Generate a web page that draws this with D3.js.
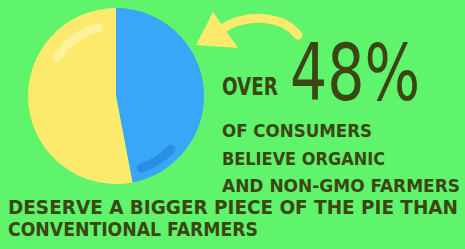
<!doctype html>
<html>
  <head>
    <script src="https://cdnjs.cloudflare.com/ajax/libs/d3/7.8.5/d3.min.js"></script>
    <style>
      body { margin: 0; background: #60f36c; }
      svg { display: block; }
      text { font-family: "DejaVu Sans Condensed", "DejaVu Sans", sans-serif; font-weight: bold; fill: #3a4712; }
    </style>
  </head>
  <body>
    <svg width="465" height="249"></svg>

    <script>
        var categories = ["Organic / non-GMO", "Conventional"];
        var shares = [47, 53];
        var sliceColors = ["#3aa6f8", "#fde96b"];

        var headline = ["OVER", "48%"];
        var bodyLines = ["OF CONSUMERS", "BELIEVE ORGANIC", "AND NON-GMO FARMERS"];
        var footLines = ["DESERVE A BIGGER PIECE OF THE PIE THAN", "CONVENTIONAL FARMERS"];

        var svg = d3.select("svg");
        var cx = 116, cy = 96, r = 88;

        var pie = d3.pie().sort(null).value(d => d)(shares);
        var arc = d3.arc().innerRadius(0).outerRadius(r);

        var g = svg.append("g").attr("transform", `translate(${cx},${cy})`);
        g.selectAll("path.slice")
          .data(pie)
          .enter()
          .append("path")
          .attr("class", "slice")
          .attr("d", arc)
          .attr("fill", (d, i) => sliceColors[i]);

        // shine marks on each slice
        var deg = Math.PI / 180;
        var shine = d3.arc().cornerRadius(4);
        g.append("path")
          .attr("d", shine({innerRadius: 66, outerRadius: 75, startAngle: -60 * deg, endAngle: -11 * deg}))
          .attr("fill", "#fdf29c");
        g.append("path")
          .attr("d", shine({innerRadius: 72, outerRadius: 81, startAngle: 131 * deg, endAngle: 164 * deg}))
          .attr("fill", "#2a8fe2");

        // arrow
        var p = d3.path();
        p.moveTo(298, 35);
        p.bezierCurveTo(285, 18, 250, 10, 220, 30);
        svg.append("path")
          .attr("d", p.toString())
          .attr("fill", "none")
          .attr("stroke", "#fde96b")
          .attr("stroke-width", 9)
          .attr("stroke-linecap", "round");
        svg.append("path")
          .attr("d", "M196,45 L213,12 L238,48 Z")
          .attr("fill", "#fde96b");

        svg.append("text").attr("x", 222).attr("y", 95)
          .attr("font-size", 24).attr("textLength", 56).attr("lengthAdjust", "spacingAndGlyphs")
          .text(headline[0]);
        svg.append("text").attr("x", 290).attr("y", 100)
          .attr("font-size", 78).attr("textLength", 130).attr("lengthAdjust", "spacingAndGlyphs")
          .style("font-weight", "normal")
          .text(headline[1]);

        var bodyWidths = [150, 163, 238];
        svg.selectAll("text.body")
          .data(bodyLines)
          .enter()
          .append("text")
          .attr("class", "body")
          .attr("x", 222)
          .attr("y", (d, i) => 137 + i * 27.5)
          .attr("font-size", 18.5)
          .attr("textLength", (d, i) => bodyWidths[i])
          .attr("lengthAdjust", "spacingAndGlyphs")
          .text(d => d);

        var footWidths = [450, 250];
        svg.selectAll("text.foot")
          .data(footLines)
          .enter()
          .append("text")
          .attr("class", "foot")
          .attr("x", 8)
          .attr("y", (d, i) => 214 + i * 22)
          .attr("font-size", 20)
          .attr("textLength", (d, i) => footWidths[i])
          .attr("lengthAdjust", "spacingAndGlyphs")
          .text(d => d);
    </script>
  </body>
</html>
